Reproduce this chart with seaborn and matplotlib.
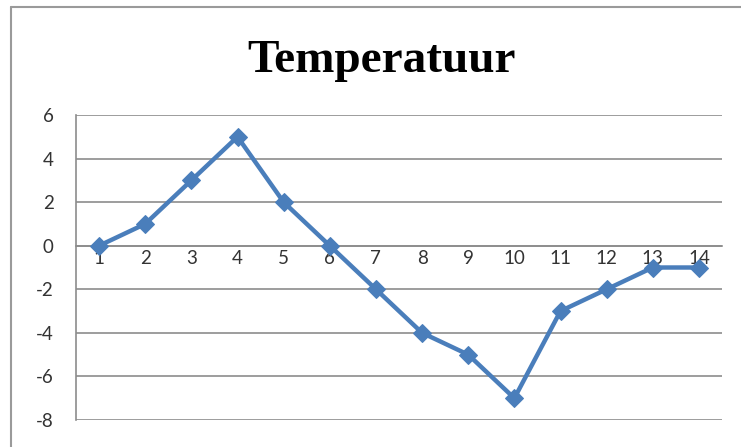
import numpy as np
import pandas as pd
import matplotlib
matplotlib.use('Agg')
import matplotlib.pyplot as plt
from matplotlib.lines import Line2D
import seaborn as sns

# data
days = list(range(1, 15))
temps = [0, 1, 3, 5, 2, 0, -2, -4, -5, -7, -3, -2, -1, -1]
y_ticks = [-8, -6, -4, -2, 0, 2, 4, 6]
title = 'Temperatuur'

df = pd.DataFrame({'dag': days, 'temp': temps})

sns.set_style('white')
plt.rcParams['font.family'] = ['Lato', 'DejaVu Sans']

fig = plt.figure(figsize=(7.41, 4.47), dpi=100)
ax = fig.add_axes([76 / 741, 1 - 420 / 447, (722 - 76) / 741, (420 - 115) / 447])

# grid lines at each y tick
for y in y_ticks:
    ax.axhline(y, color='#8c8c8c', lw=1.2, zorder=1)

sns.lineplot(data=df, x='dag', y='temp', ax=ax, color='#4a7ebb', lw=3.2,
             marker='D', markersize=9, markeredgecolor='#4a7ebb', zorder=3)

ax.set_xlim(0.5, 14.5)
ax.set_ylim(-8, 6)
ax.set_yticks(y_ticks)
ax.set_yticklabels([str(v) for v in y_ticks])
ax.set_xticks(days)
ax.set_xticklabels([str(d) for d in days])
ax.set_xticks(np.arange(1.5, 14.5, 1), minor=True)
ax.tick_params(axis='x', which='major', length=0, pad=3, labelsize=13.5, labelcolor='#333333')
ax.tick_params(axis='x', which='minor', length=5, color='#8c8c8c', direction='out')
ax.tick_params(axis='y', length=7, color='#8c8c8c', direction='out', pad=9,
               labelsize=13.5, labelcolor='#333333')

for s in ['top', 'right']:
    ax.spines[s].set_visible(False)
ax.spines['bottom'].set_position(('data', 0))
ax.spines['bottom'].set_color('#8c8c8c')
ax.spines['left'].set_color('#8c8c8c')
ax.spines['bottom'].set_linewidth(1.2)
ax.spines['left'].set_linewidth(1.2)
ax.set_xlabel('')
ax.set_ylabel('')

fig.text(382 / 741, 1 - 72 / 447, title, ha='center', va='baseline', color='black',
         fontsize=34, fontweight='bold', family='Liberation Serif')

# outer chart frame (only top and left edges visible)
fig.add_artist(Line2D([11 / 741, 1], [1 - 7 / 447, 1 - 7 / 447], color='#9a9a9a', lw=1.5))
fig.add_artist(Line2D([11 / 741, 11 / 741], [0, 1 - 7 / 447], color='#9a9a9a', lw=1.5))

fig.savefig('out.png', dpi=100)
